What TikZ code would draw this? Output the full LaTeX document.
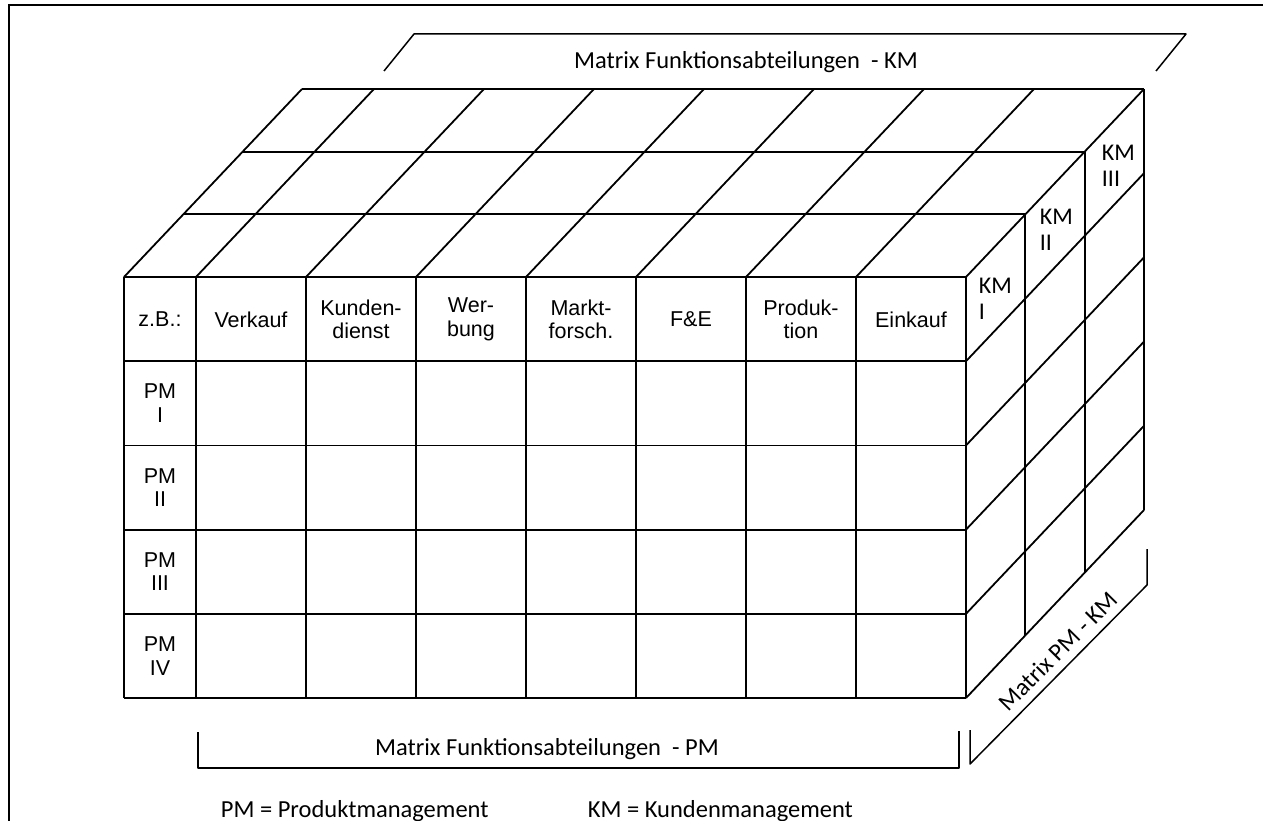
\documentclass[tikz,border=0pt]{standalone}
\usepackage{fontspec}
\setmainfont{Liberation Sans}
\newfontfamily\calibri{Carlito}

\begin{document}
\begin{tikzpicture}[
        x=1pt, y=-1pt,
        line width=1.8pt,
        CellText/.style={align=center, inner sep=0pt, font=\fontsize{21.5}{23.5}\selectfont},
        KMLabel/.style={align=left, anchor=north west, inner sep=0pt, font=\calibri\fontsize{24}{26.5}\selectfont},
        MatrixLabel/.style={inner sep=0pt, font=\calibri\fontsize{24.5}{27}\selectfont},
        Bracket/.style={line width=1.5pt, line join=round},
    ]
    \useasboundingbox (0,0) rectangle (1263,821);
    \clip (0,0) rectangle (1263,821);
    \draw (9,5) rectangle (1300,900);

    % front face
    \foreach \x in {124,196,306,416,526,636,746,856,966}
        \draw (\x,277) -- (\x,698);
    \foreach \y in {277,361.2,445.4,529.6,613.8,698}
        \draw (124,\y) -- (966,\y);

    % top face
    \foreach \x in {124,196,306,416,526,636,746,856,966}
        \draw (\x,277) -- ({\x+178},89);
    \foreach \k in {1,2,3}
        \draw ({124+59.33*\k},{277-62.67*\k}) -- ({966+59.33*\k},{277-62.67*\k});

    % right face
    \foreach \k in {1,2,3}
        \draw ({966+59.33*\k},{277-62.67*\k}) -- ({966+59.33*\k},{698-62.67*\k});
    \foreach \y in {361.2,445.4,529.6,613.8,698}
        \draw (966,\y) -- (1144,{\y-188});

    \foreach \x/\txt [count=\i] in {160/z.B.:, 251/Verkauf, 361/{Kunden-\\dienst}, 471/{Wer-\\bung},
            581/{Markt-\\forsch.}, 691/F\&E, 801/{Produk-\\tion}, 911/Einkauf}
        \node[CellText] (head\i) at (\x,319.5) {\txt};
    \foreach \y/\rn [count=\i] in {403.3/I, 487.5/II, 571.7/III, 655.9/IV}
        \node[CellText] (pm\i) at (160,\y) {PM\\\rn};

    \node[KMLabel] (km1) at (978,277) {KM\\I};
    \node[KMLabel] (km2) at (1039,208) {KM\\II};
    \node[KMLabel] (km3) at (1101,144) {KM\\III};

    % brackets
    \coordinate (tl) at (384,71);
    \coordinate (tr) at (1156,71);
    \draw[Bracket] (tl) -- ++(30,-37) -- (1186,34) -- (tr);
    \node[MatrixLabel, anchor=base] (fakm) at (746,69) {Matrix Funktionsabteilungen\ \ - KM};

    \coordinate (bl) at (198,732);
    \coordinate (br) at (959,731);
    \draw[Bracket] (bl) -- (198,768) -- (959,768) -- (br);
    \node[MatrixLabel, anchor=base] (fapm) at (547,755) {Matrix Funktionsabteilungen\ \ - PM};

    \coordinate (rl) at (970,730);
    \coordinate (rr) at (1147,549);
    \draw[Bracket] (rl) -- (970,764) -- (1147,585) -- (rr);
    \node[MatrixLabel, rotate=45.3] (pmkm) at (1058,651) {Matrix PM - KM};

    \node[MatrixLabel, anchor=base west] (legpm) at (220,817) {PM = Produktmanagement};
    \node[MatrixLabel, anchor=base west] (legkm) at (587,817) {KM = Kundenmanagement};
\end{tikzpicture}
\end{document}
